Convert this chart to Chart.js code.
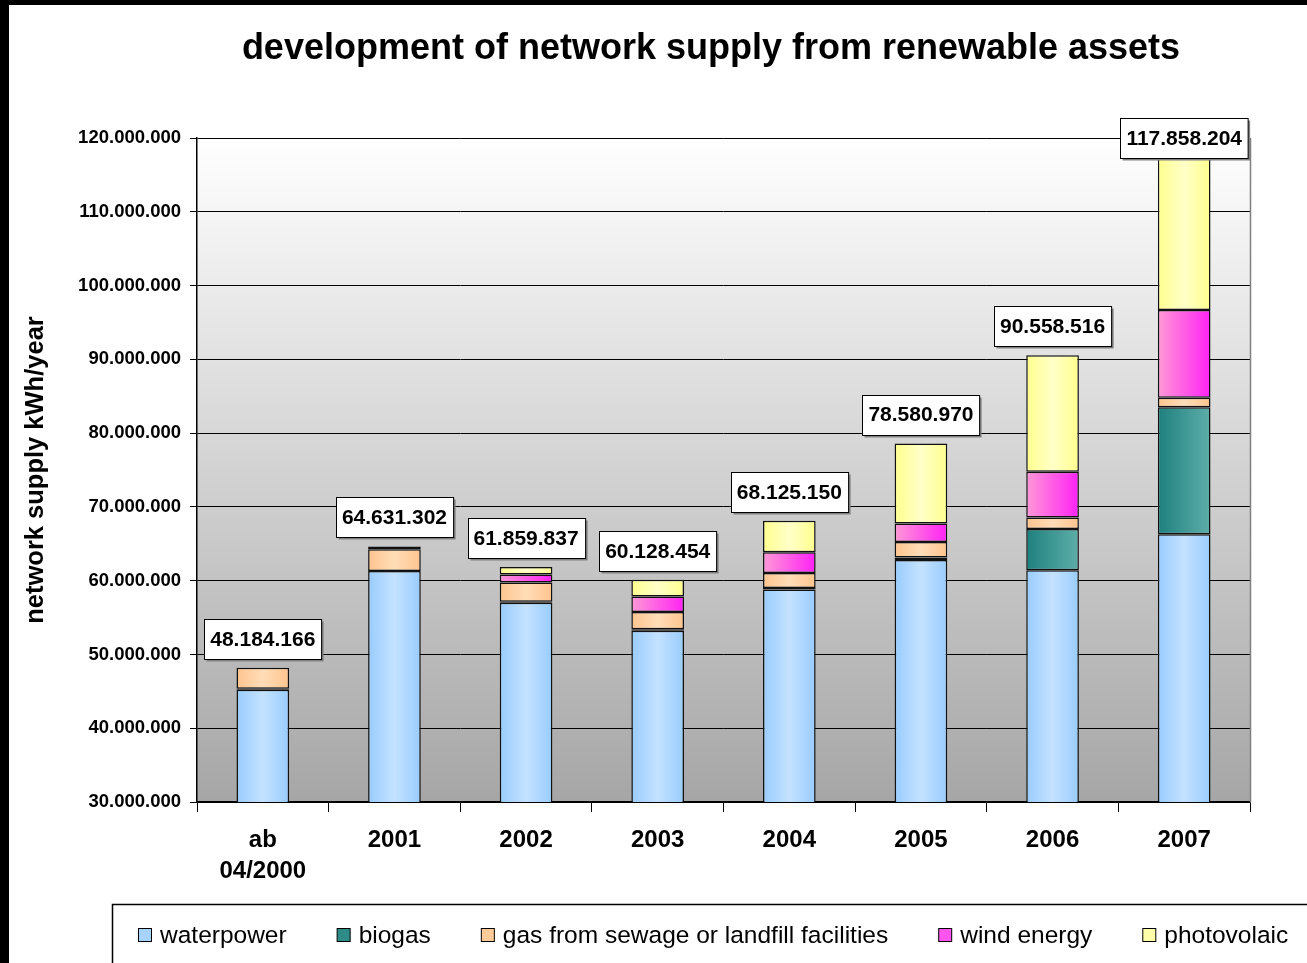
<!DOCTYPE html>
<html>
<head>
<meta charset="utf-8">
<script src="https://cdn.jsdelivr.net/npm/chart.js@4.4.1/dist/chart.umd.min.js"></script>
<style>
html,body{margin:0;padding:0;background:#fff;}
canvas{display:block;}
</style>
</head>
<body>
<canvas id="c" width="1307" height="963"></canvas>
<script>
// ---- data (kWh/year) ----
const categories = [['ab','04/2000'], '2001', '2002', '2003', '2004', '2005', '2006', '2007'];
const waterpower = [45200000, 61300000, 57000000, 53200000, 58800000, 62800000, 61400000, 66300000];
const biogas     = [150000, 0, 150000, 200000, 200000, 350000, 5600000, 17200000];
const sewageGas  = [2830000, 2950000, 2600000, 2350000, 2050000, 2100000, 1550000, 1300000];
const windEnergy = [0, 50000, 1100000, 2100000, 2800000, 2500000, 6200000, 11900000];
const photovolaic= [0, 330000, 1010000, 2280000, 4280000, 10830000, 15810000, 21160000];
const totals     = [48184166, 64631302, 61859837, 60128454, 68125150, 78580970, 90558516, 117858204];
const yTicks     = [30000000, 40000000, 50000000, 60000000, 70000000, 80000000, 90000000, 100000000, 110000000, 120000000];
const titleText  = 'development of network supply from renewable assets';

const fmt = v => Math.round(v).toString().replace(/\B(?=(\d{3})+(?!\d))/g, '.');

function barGrad(edge, mid) {
  return function(ctx) {
    const chart = ctx.chart;
    const xs = chart.scales && chart.scales.x;
    if (!chart.chartArea || !xs || ctx.dataIndex === undefined) return edge;
    const cx = xs.getPixelForValue(ctx.dataIndex);
    const w = xs.width / categories.length * 0.4;
    const g = chart.ctx.createLinearGradient(cx - w / 2, 0, cx + w / 2, 0);
    g.addColorStop(0, edge);
    g.addColorStop(0.5, mid);
    g.addColorStop(1, edge);
    return g;
  };
}
function barGrad2(a, b) {
  return function(ctx) {
    const chart = ctx.chart;
    const xs = chart.scales && chart.scales.x;
    if (!chart.chartArea || !xs || ctx.dataIndex === undefined) return b;
    const cx = xs.getPixelForValue(ctx.dataIndex);
    const w = xs.width / categories.length * 0.4;
    const g = chart.ctx.createLinearGradient(cx - w / 2, 0, cx + w / 2, 0);
    g.addColorStop(0, a);
    g.addColorStop(1, b);
    return g;
  };
}

const seriesMeta = [
  {label: 'waterpower', data: waterpower, bg: barGrad('#99CCFF', '#C4E2FF'), legend: '#A8D2FF'},
  {label: 'biogas', data: biogas, bg: barGrad2('#1E807E', '#5EAEA9'), legend: '#2E8B87'},
  {label: 'gas from sewage or landfill facilities', data: sewageGas, bg: barGrad('#FFC48E', '#FFDDB8'), legend: '#FFCC99'},
  {label: 'wind energy', data: windEnergy, bg: barGrad2('#FF99D6', '#FF22F5'), legend: '#FF55EE'},
  {label: 'photovolaic', data: photovolaic, bg: barGrad('#FFFF8E', '#FFFFC8'), legend: '#FFFFAA'}
];

const datasets = seriesMeta.map(s => ({
  label: s.label,
  data: s.data,
  backgroundColor: s.bg,
  legendColor: s.legend,
  borderColor: '#111',
  borderWidth: 1.5,
  borderSkipped: false,
  barPercentage: 0.4,
  categoryPercentage: 1.0
}));

const FONT = 'Arial, "Liberation Sans", sans-serif';

const decorPlugin = {
  id: 'decor',
  beforeDraw(chart) {
    const {ctx, chartArea: a} = chart;
    ctx.save();
    ctx.fillStyle = '#fff';
    ctx.fillRect(0, 0, chart.width, chart.height);
    const g = ctx.createLinearGradient(0, a.top, 0, a.bottom);
    g.addColorStop(0, '#ffffff');
    g.addColorStop(1, '#a6a6a6');
    ctx.fillStyle = g;
    ctx.fillRect(a.left, a.top, a.right - a.left, a.bottom - a.top);
    ctx.restore();
  },
  afterDatasetsDraw(chart) {
    const {ctx, chartArea: a, scales} = chart;
    ctx.save();
    // right plot border
    ctx.strokeStyle = '#808080';
    ctx.lineWidth = 1.5;
    ctx.beginPath();
    ctx.moveTo(a.right + 0.5, a.top);
    ctx.lineTo(a.right + 0.5, a.bottom);
    ctx.stroke();
    // total labels
    ctx.font = 'bold 21px ' + FONT;
    ctx.textAlign = 'center';
    ctx.textBaseline = 'middle';
    totals.forEach((t, i) => {
      const x = scales.x.getPixelForValue(i);
      const yTop = scales.y.getPixelForValue(t);
      const txt = fmt(t);
      const w = ctx.measureText(txt).width + 12;
      const h = 40;
      let cy = yTop - 9 - h / 2;
      if (cy < a.top) cy = a.top;
      const bx = Math.round(x - w / 2) + 0.5, by = Math.round(cy - h / 2) + 0.5;
      ctx.fillStyle = '#808080';
      ctx.fillRect(bx + 2, by + 2, w, h);
      ctx.fillStyle = '#fff';
      ctx.fillRect(bx, by, w, h);
      ctx.strokeStyle = '#000';
      ctx.lineWidth = 1;
      ctx.strokeRect(bx, by, w, h);
      ctx.fillStyle = '#000';
      ctx.fillText(txt, x, cy + 1);
    });
    ctx.restore();
  },
  afterDraw(chart) {
    const {ctx} = chart;
    ctx.save();
    // title
    ctx.fillStyle = '#000';
    ctx.font = 'bold 36px ' + FONT;
    ctx.textAlign = 'center';
    ctx.textBaseline = 'middle';
    ctx.fillText(titleText, 711, 49);
    // legend
    ctx.strokeStyle = '#000';
    ctx.lineWidth = 1.5;
    ctx.strokeRect(112.5, 904.5, 1300, 120);
    ctx.font = '24.5px ' + FONT;
    ctx.textBaseline = 'middle';
    ctx.textAlign = 'left';
    let x = 138;
    const cy = 935;
    chart.data.datasets.forEach(ds => {
      ctx.fillStyle = ds.legendColor;
      ctx.fillRect(x + 0.5, cy - 7 + 0.5, 13, 13);
      ctx.strokeStyle = '#000';
      ctx.lineWidth = 1;
      ctx.strokeRect(x + 0.5, cy - 7 + 0.5, 13, 13);
      ctx.fillStyle = '#000';
      ctx.fillText(ds.label, x + 22, cy + 1);
      x += 22 + ctx.measureText(ds.label).width + 50;
    });
    // black frame bands
    ctx.fillStyle = '#000';
    ctx.fillRect(0, 0, chart.width, 5);
    ctx.fillRect(0, 0, 9, chart.height);
    ctx.restore();
  }
};

new Chart(document.getElementById('c'), {
  type: 'bar',
  data: {labels: categories, datasets},
  plugins: [decorPlugin],
  options: {
    responsive: false,
    animation: false,
    devicePixelRatio: 1,
    layout: {padding: {top: 138, left: 10, right: 57, bottom: 71}},
    plugins: {
      legend: {display: false},
      tooltip: {enabled: false},
      title: {display: false, text: titleText}
    },
    scales: {
      x: {
        stacked: true,
        afterFit: s => { s.height = 90; },
        grid: {display: true, drawOnChartArea: false, drawTicks: true, tickLength: 10, color: '#000', offset: true},
        border: {display: true, color: '#000', width: 1.5},
        ticks: {color: '#000', font: {family: FONT, size: 24, weight: 'bold', lineHeight: 1.3}, padding: 13, maxRotation: 0, autoSkip: false}
      },
      y: {
        stacked: true,
        min: yTicks[0],
        max: yTicks[yTicks.length - 1],
        afterFit: s => { s.width = 187; },
        afterBuildTicks: s => { s.ticks = yTicks.map(v => ({value: v})); },
        grid: {color: '#000', lineWidth: 1, tickLength: 7},
        border: {display: true, color: '#000', width: 1.5},
        ticks: {color: '#000', font: {family: FONT, size: 18.5, weight: 'bold'}, padding: 9, callback: v => fmt(v)},
        title: {display: true, text: 'network supply kWh/year', color: '#000', font: {family: FONT, size: 25.5, weight: 'bold', lineHeight: 1.2}, padding: {top: 11, bottom: 0}}
      }
    }
  }
});
</script>
</body>
</html>
